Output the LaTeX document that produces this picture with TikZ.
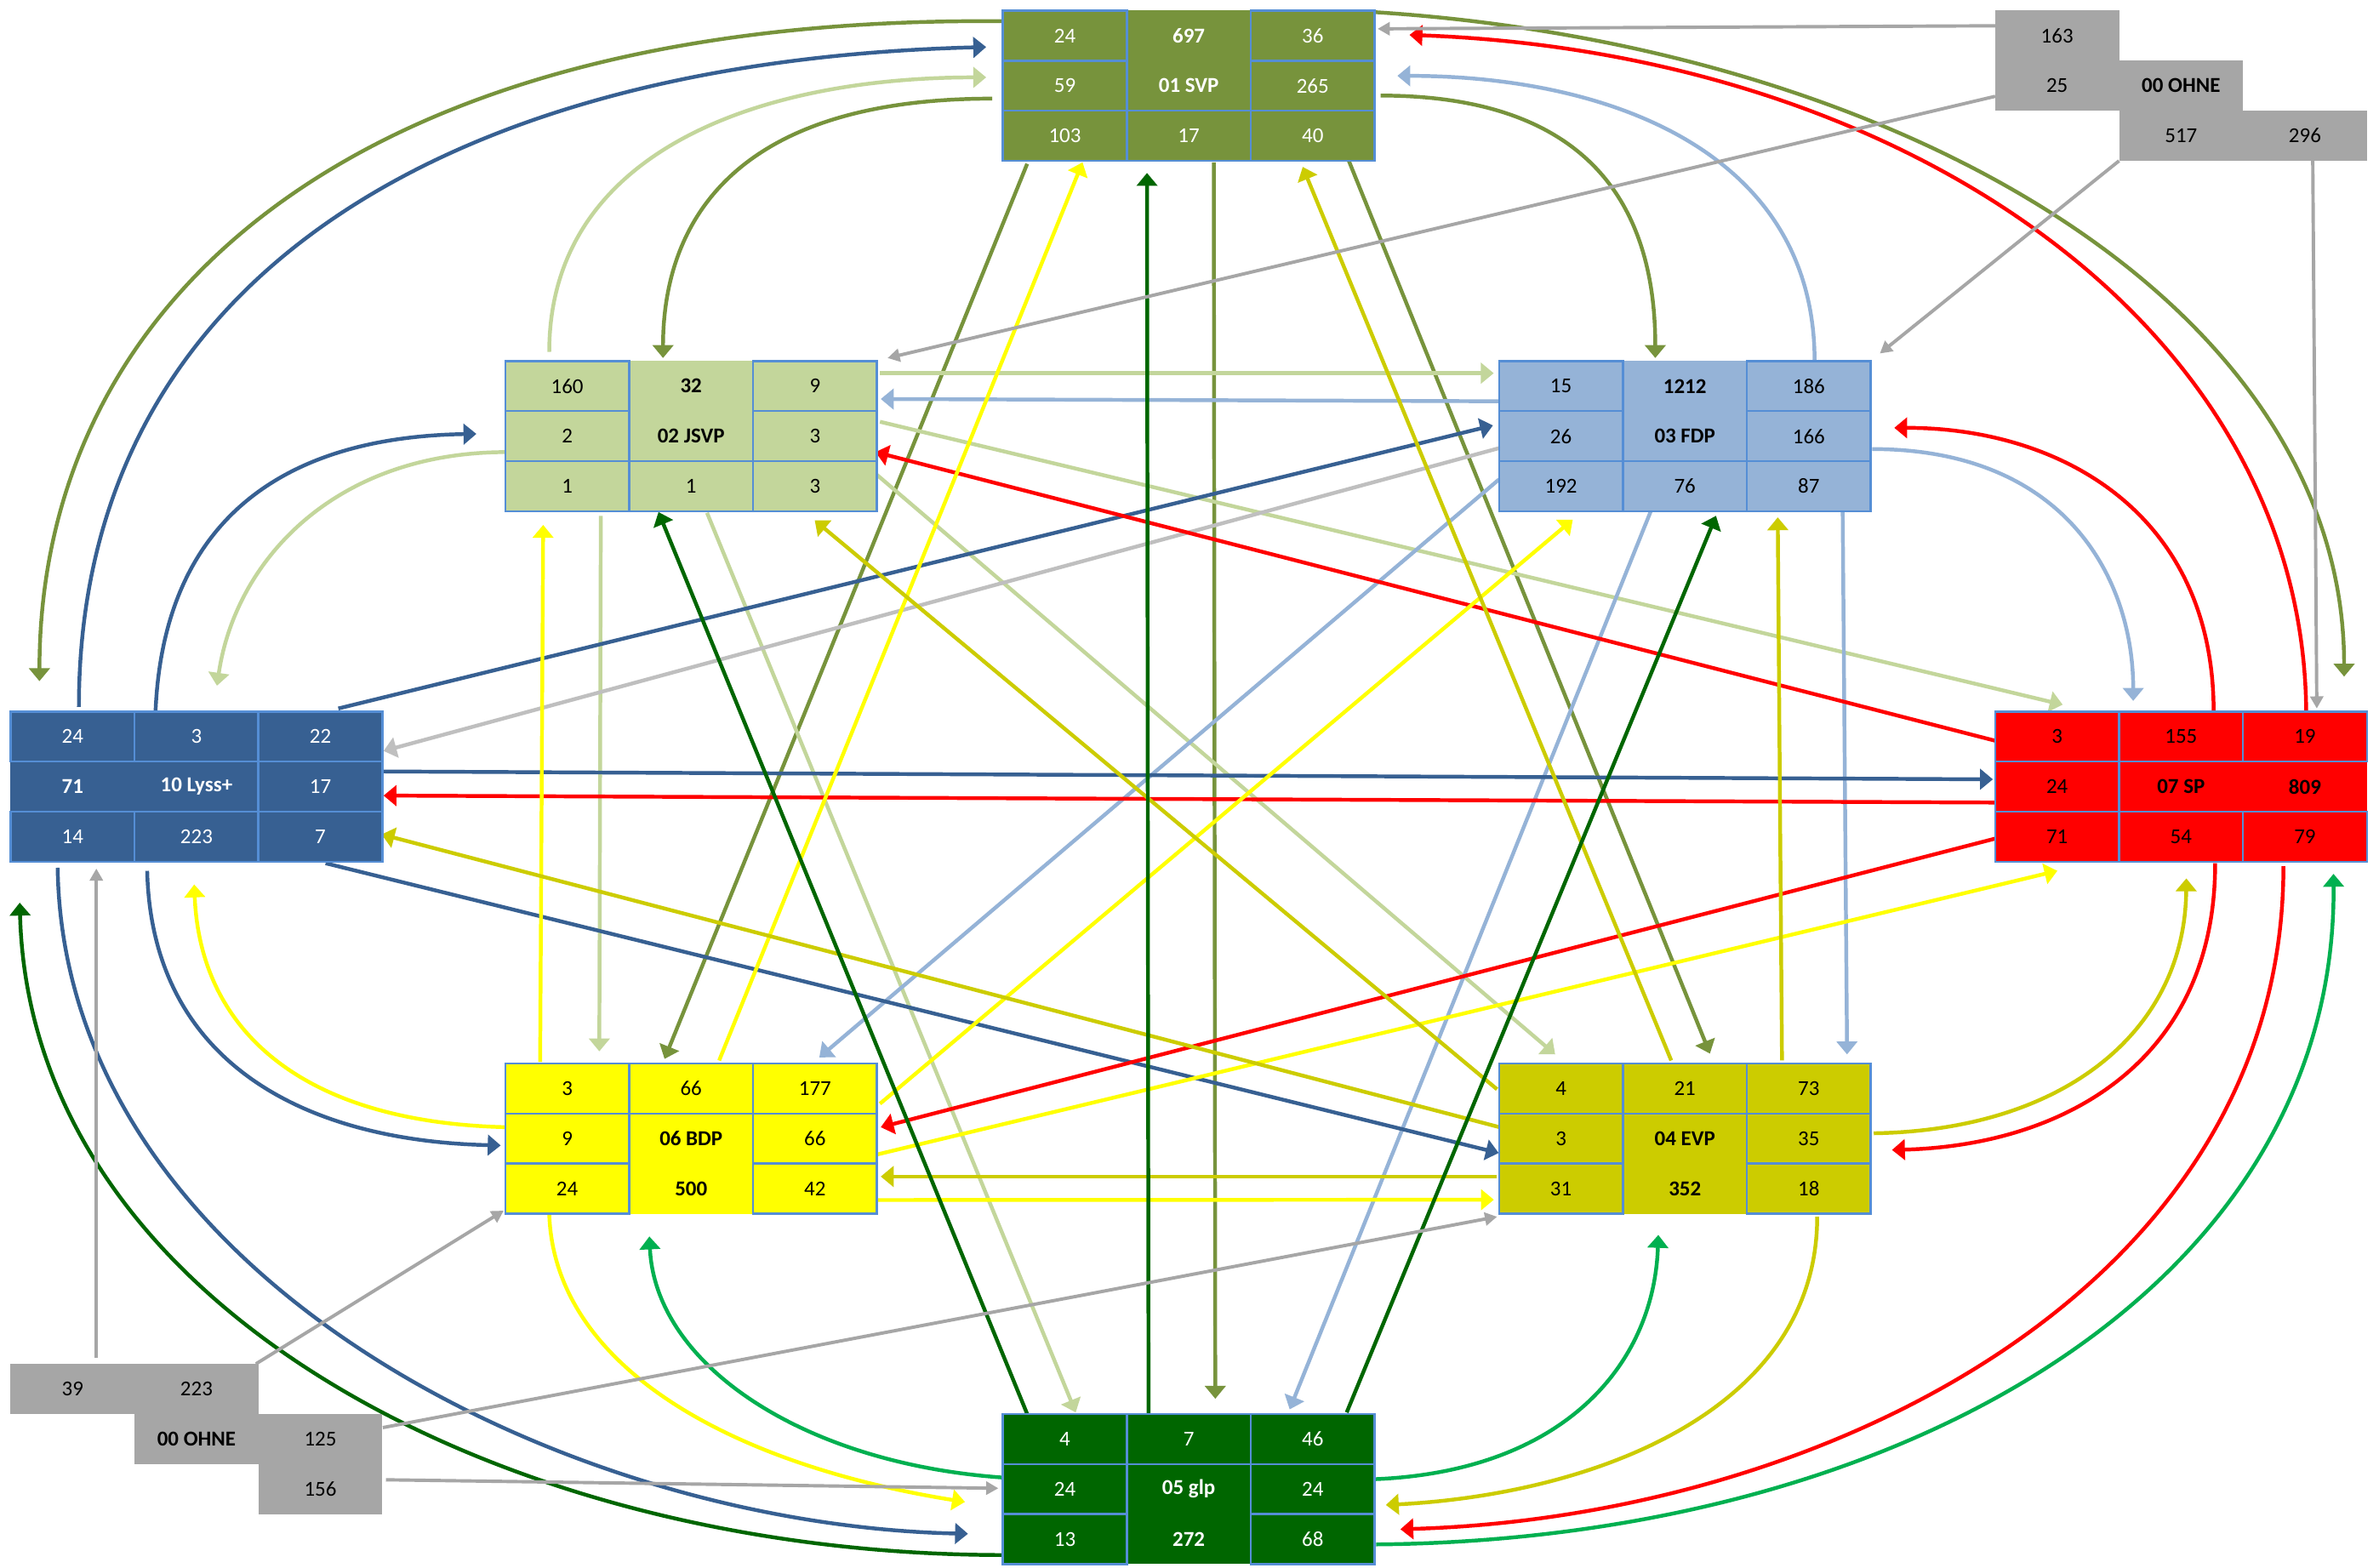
\documentclass[tikz,border=0pt]{standalone}
\usepackage{fontspec}
\setmainfont{Carlito}
\usetikzlibrary{arrows.meta}
\definecolor{svpc}{HTML}{77933C}
\definecolor{jsvpc}{HTML}{C3D69B}
\definecolor{fdpc}{HTML}{95B3D7}
\definecolor{lyssc}{HTML}{376092}
\definecolor{spc}{HTML}{FF0000}
\definecolor{bdpc}{HTML}{FFFF00}
\definecolor{evpc}{HTML}{CCCC00}
\definecolor{glpc}{HTML}{006600}
\definecolor{glpb}{HTML}{00B050}
\definecolor{ohnec}{HTML}{A6A6A6}
\definecolor{lgrey}{HTML}{BFBFBF}
\definecolor{bordc}{HTML}{558ED5}
\newcommand\cellfont{\fontsize{14}{16}\selectfont}
\newcommand\cell[5]{\node[#1, text=\tc] (#2) at ([shift={(#3*81.667,#4*33)}]\bx.north west) {#5};}
\pgfdeclarelayer{bgl}
\pgfdeclarelayer{conn}
\pgfsetlayers{bgl,conn,main}
\tikzset{
  pbox/.style={anchor=north west, minimum width=245pt, minimum height=99pt, inner sep=0pt, outer sep=0pt, draw=none},
  cb/.style={anchor=north west, minimum width=81.667pt, minimum height=33pt, inner sep=0pt, outer sep=0pt, draw=bordc, line width=1.4pt, font=\cellfont},
  cn/.style={cb, draw=none},
  ohc/.style={anchor=north west, minimum width=81.667pt, minimum height=33pt, inner sep=0pt, outer sep=0pt, fill=ohnec, text=black, font=\cellfont},
  arr/.style={line width=2.5pt, -{Triangle[length=8.5pt,width=13.5pt]}},
  garr/.style={line width=2.2pt, color=ohnec, -{Triangle[length=8pt,width=8.5pt]}},
}
\begin{document}
\begin{tikzpicture}[x=1pt,y=-1pt]
\useasboundingbox (0,0) rectangle (1568,1033);
\begin{pgfonlayer}{bgl}
\fill[white] (0,0) rectangle (1568,1033);
\end{pgfonlayer}

% ---------- SVP
\node[pbox, fill=svpc] (svp) at (661,7) {};
\def\bx{svp}\def\tc{white}
\cell{cb}{svp11}{0}{0}{24}
\cell{cn}{svp12}{1}{0}{\textbf{697}}
\cell{cb}{svp13}{2}{0}{36}
\cell{cb}{svp21}{0}{1}{59}
\cell{cn}{svp22}{1}{1}{\textbf{01 SVP}}
\cell{cb}{svp23}{2}{1}{265}
\cell{cb}{svp31}{0}{2}{103}
\cell{cb}{svp32}{1}{2}{17}
\cell{cb}{svp33}{2}{2}{40}
% ---------- JSVP
\node[pbox, fill=jsvpc] (jsvp) at (333,238) {};
\def\bx{jsvp}\def\tc{black}
\cell{cb}{jsvp11}{0}{0}{160}
\cell{cn}{jsvp12}{1}{0}{\textbf{32}}
\cell{cb}{jsvp13}{2}{0}{9}
\cell{cb}{jsvp21}{0}{1}{2}
\cell{cn}{jsvp22}{1}{1}{\textbf{02 JSVP}}
\cell{cb}{jsvp23}{2}{1}{3}
\cell{cb}{jsvp31}{0}{2}{1}
\cell{cb}{jsvp32}{1}{2}{1}
\cell{cb}{jsvp33}{2}{2}{3}
% ---------- FDP
\node[pbox, fill=fdpc] (fdp) at (988,238) {};
\def\bx{fdp}\def\tc{black}
\cell{cb}{fdp11}{0}{0}{15}
\cell{cn}{fdp12}{1}{0}{\textbf{1212}}
\cell{cb}{fdp13}{2}{0}{186}
\cell{cb}{fdp21}{0}{1}{26}
\cell{cn}{fdp22}{1}{1}{\textbf{03 FDP}}
\cell{cb}{fdp23}{2}{1}{166}
\cell{cb}{fdp31}{0}{2}{192}
\cell{cb}{fdp32}{1}{2}{76}
\cell{cb}{fdp33}{2}{2}{87}
% ---------- Lyss+
\node[pbox, fill=lyssc] (lyss) at (7,469) {};
\def\bx{lyss}\def\tc{white}
\cell{cb}{lyss11}{0}{0}{24}
\cell{cb}{lyss12}{1}{0}{3}
\cell{cb}{lyss13}{2}{0}{22}
\cell{cn}{lyss21}{0}{1}{\textbf{71}}
\cell{cn}{lyss22}{1}{1}{\textbf{10 Lyss+}}
\cell{cb}{lyss23}{2}{1}{17}
\cell{cb}{lyss31}{0}{2}{14}
\cell{cb}{lyss32}{1}{2}{223}
\cell{cb}{lyss33}{2}{2}{7}
% ---------- SP
\node[pbox, fill=spc] (sp) at (1315,469) {};
\def\bx{sp}\def\tc{black}
\cell{cb}{sp11}{0}{0}{3}
\cell{cb}{sp12}{1}{0}{155}
\cell{cb}{sp13}{2}{0}{19}
\cell{cb}{sp21}{0}{1}{24}
\cell{cn}{sp22}{1}{1}{\textbf{07 SP}}
\cell{cn}{sp23}{2}{1}{\textbf{809}}
\cell{cb}{sp31}{0}{2}{71}
\cell{cb}{sp32}{1}{2}{54}
\cell{cb}{sp33}{2}{2}{79}
% ---------- BDP
\node[pbox, fill=bdpc] (bdp) at (333,701) {};
\def\bx{bdp}\def\tc{black}
\cell{cb}{bdp11}{0}{0}{3}
\cell{cb}{bdp12}{1}{0}{66}
\cell{cb}{bdp13}{2}{0}{177}
\cell{cb}{bdp21}{0}{1}{9}
\cell{cn}{bdp22}{1}{1}{\textbf{06 BDP}}
\cell{cb}{bdp23}{2}{1}{66}
\cell{cb}{bdp31}{0}{2}{24}
\cell{cn}{bdp32}{1}{2}{\textbf{500}}
\cell{cb}{bdp33}{2}{2}{42}
% ---------- EVP
\node[pbox, fill=evpc] (evp) at (988,701) {};
\def\bx{evp}\def\tc{black}
\cell{cb}{evp11}{0}{0}{4}
\cell{cb}{evp12}{1}{0}{21}
\cell{cb}{evp13}{2}{0}{73}
\cell{cb}{evp21}{0}{1}{3}
\cell{cn}{evp22}{1}{1}{\textbf{04 EVP}}
\cell{cb}{evp23}{2}{1}{35}
\cell{cb}{evp31}{0}{2}{31}
\cell{cn}{evp32}{1}{2}{\textbf{352}}
\cell{cb}{evp33}{2}{2}{18}
% ---------- glp
\node[pbox, fill=glpc] (glp) at (661,932) {};
\def\bx{glp}\def\tc{white}
\cell{cb}{glp11}{0}{0}{4}
\cell{cb}{glp12}{1}{0}{7}
\cell{cb}{glp13}{2}{0}{46}
\cell{cb}{glp21}{0}{1}{24}
\cell{cn}{glp22}{1}{1}{\textbf{05 glp}}
\cell{cb}{glp23}{2}{1}{24}
\cell{cb}{glp31}{0}{2}{13}
\cell{cn}{glp32}{1}{2}{\textbf{272}}
\cell{cb}{glp33}{2}{2}{68}
% ---------- OHNE (top right)
\node[ohc] (o163) at (1315,7) {163};
\node[ohc] (o25) at (1315,40) {25};
\node[ohc] (oname) at (1396.667,40) {\textbf{00 OHNE}};
\node[ohc] (o517) at (1396.667,73) {517};
\node[ohc] (o296) at (1478.333,73) {296};
% ---------- OHNE (bottom left)
\node[ohc] (u39) at (7,899) {39};
\node[ohc] (u223) at (88.667,899) {223};
\node[ohc] (uname) at (88.667,932) {\textbf{00 OHNE}};
\node[ohc] (u125) at (170.333,932) {125};
\node[ohc] (u156) at (170.333,965) {156};

\begin{pgfonlayer}{conn}
% ---- SVP (olive)
\begin{scope}[arr, color=svpc]
\draw ([shift={(0,7)}]svp.north west) .. controls +(-431,-4) and +(0,-249) .. ([shift={(19,-20)}]lyss.north west);
\draw ([shift={(245,1)}]svp.north west) .. controls +(344,22) and +(0,-246) .. ([shift={(230,-23)}]sp.north west);
\draw ([shift={(-7,58)}]svp.north west) .. controls +(-174,0) and +(0,-86) .. ([shift={(104,-2)}]jsvp.north west);
\draw ([shift={(249,56)}]svp.north west) .. controls +(150,0) and +(0,-86) .. ([shift={(103,-2)}]fdp.north west);
\draw ([shift={(16,101)}]svp.north west) -- ([shift={(105,-3)}]bdp.north west);
\draw ([shift={(139,100)}]svp.north west) -- ([shift={(140,-10)}]glp.north west);
\draw ([shift={(228,99)}]svp.north west) -- ([shift={(139,-6.5)}]evp.north west);
\end{scope}
% ---- JSVP (light green)
\begin{scope}[arr, color=jsvpc]
\draw ([shift={(29,-6)}]jsvp.north west) .. controls +(0,-132) and +(-150,0) .. ([shift={(-11,44)}]svp.north west);
\draw ([shift={(247,8)}]jsvp.north west) -- ([shift={(-3.5,8)}]fdp.north west);
\draw ([shift={(1,60)}]jsvp.north west) .. controls +(-114,0) and +(12,-82) .. ([shift={(136,-17)}]lyss.north west);
\draw ([shift={(63,102)}]jsvp.north west) -- ([shift={(62,-8)}]bdp.north west);
\draw ([shift={(133,100)}]jsvp.north west) -- ([shift={(48,-1)}]glp.north west);
\draw ([shift={(247,40)}]jsvp.north west) -- ([shift={(44.5,-4.5)}]sp.north west);
\draw ([shift={(245,75)}]jsvp.north west) -- ([shift={(37,-6)}]evp.north west);
\end{scope}
% ---- FDP (light blue)
\begin{scope}[arr, color=fdpc]
\draw ([shift={(208,0)}]fdp.north west) .. controls +(0,-138) and +(139,0) .. ([shift={(260,43)}]svp.north west);
\draw ([shift={(0,26.5)}]fdp.north west) -- ([shift={(247.5,25)}]jsvp.north west);
\draw ([shift={(246,58)}]fdp.north west) .. controls +(126,0) and +(0,-82) .. ([shift={(91,-7)}]sp.north west);
\draw ([shift={(0,78)}]fdp.north west) -- ([shift={(207,-4)}]bdp.north west);
\draw ([shift={(100,99)}]fdp.north west) -- ([shift={(189,-3)}]glp.north west);
\draw ([shift={(226.5,99)}]fdp.north west) -- ([shift={(229.4,-6)}]evp.north west);
\draw[color=lgrey] ([shift={(0,57.4)}]fdp.north west) -- ([shift={(245.8,26)}]lyss.north west);
\end{scope}
% ---- Lyss+ (dark blue)
\begin{scope}[arr, color=lyssc]
\draw ([shift={(45,-3)}]lyss.north west) .. controls +(0,-286) and +(-350,9) .. ([shift={(-11,24)}]svp.north west);
\draw ([shift={(95.5,0)}]lyss.north west) .. controls +(5.5,-129) and +(-124,2) .. ([shift={(-19,48)}]jsvp.north west);
\draw ([shift={(216,-2)}]lyss.north west) -- ([shift={(-4,42.4)}]fdp.north west);
\draw ([shift={(244.5,39.5)}]lyss.north west) -- ([shift={(-1.5,44.7)}]sp.north west);
\draw ([shift={(207.6,100)}]lyss.north west) -- ([shift={(-0.2,59)}]evp.north west);
\draw ([shift={(90,105)}]lyss.north west) .. controls +(3,126) and +(-130,-3) .. ([shift={(-3,54)}]bdp.north west);
\draw ([shift={(31,103)}]lyss.north west) .. controls +(4,268) and +(-268,-6) .. ([shift={(-23,79)}]glp.north west);
\end{scope}
% ---- SP (red)
\begin{scope}[arr, color=spc]
\draw ([shift={(205,0)}]sp.north west) .. controls +(-2,-254) and +(326,12) .. ([shift={(268,16)}]svp.north west);
\draw ([shift={(144,0)}]sp.north west) .. controls +(0,-129) and +(111.5,0) .. ([shift={(260.5,44)}]fdp.north west);
\draw ([shift={(1,19.5)}]sp.north west) -- ([shift={(244,60)}]jsvp.north west);
\draw ([shift={(0,60)}]sp.north west) -- ([shift={(245.8,55.4)}]lyss.north west);
\draw ([shift={(1,83.5)}]sp.north west) -- ([shift={(247.5,42)}]bdp.north west);
\draw ([shift={(145,100)}]sp.north west) .. controls +(0,131) and +(113,-3) .. ([shift={(259,57)}]evp.north west);
\draw ([shift={(190,102)}]sp.north west) .. controls +(0,279) and +(277,-8) .. ([shift={(262,76)}]glp.north west);
\end{scope}
% ---- BDP (yellow)
\begin{scope}[arr, color=bdpc]
\draw ([shift={(141,-2)}]bdp.north west) -- ([shift={(52.5,100)}]svp.north west);
\draw ([shift={(23,-1)}]bdp.north west) -- ([shift={(25,108)}]jsvp.north west);
\draw ([shift={(1,42)}]bdp.north west) .. controls +(-134,-3) and +(4,97) .. ([shift={(121,114)}]lyss.north west);
\draw ([shift={(247,26.5)}]bdp.north west) -- ([shift={(48.6,104.5)}]fdp.north west);
\draw ([shift={(245,60)}]bdp.north west) -- ([shift={(41,105)}]sp.north west);
\draw ([shift={(245,90)}]bdp.north west) -- ([shift={(-3.4,89.8)}]evp.north west);
\draw ([shift={(29,99)}]bdp.north west) .. controls +(3,100) and +(-156,-25) .. ([shift={(-25,58)}]glp.north west);
\end{scope}
% ---- EVP (olive yellow)
\begin{scope}[arr, color=evpc]
\draw ([shift={(113.5,-2)}]evp.north west) -- ([shift={(197.6,103)}]svp.north west);
\draw ([shift={(-1.3,17)}]evp.north west) -- ([shift={(204,105)}]jsvp.north west);
\draw ([shift={(0.4,42)}]evp.north west) -- ([shift={(244.5,81)}]lyss.north west);
\draw ([shift={(186.5,-2)}]evp.north west) -- ([shift={(183.7,103)}]fdp.north west);
\draw ([shift={(247,46)}]evp.north west) .. controls +(125,-2) and +(-1,101) .. ([shift={(126,110)}]sp.north west);
\draw ([shift={(-1.3,74.5)}]evp.north west) -- ([shift={(247.5,74.5)}]bdp.north west);
\draw ([shift={(209.7,101)}]evp.north west) .. controls +(0,128) and +(136.6,-7) .. ([shift={(252.4,60)}]glp.north west);
\end{scope}
% ---- glp (greens)
\begin{scope}[arr, color=glpc]
\draw ([shift={(96,0)}]glp.north west) -- ([shift={(95,107)}]svp.north west);
\draw ([shift={(16,0)}]glp.north west) -- ([shift={(101,99.5)}]jsvp.north west);
\draw ([shift={(226.6,-1)}]glp.north west) -- ([shift={(143,102)}]fdp.north west);
\draw ([shift={(1,93)}]glp.north west) .. controls +(-332,0) and +(7,265) .. ([shift={(6,126)}]lyss.north west);
\end{scope}
\begin{scope}[arr, color=glpb]
\draw ([shift={(1,42)}]glp.north west) .. controls +(-132,-9) and +(4,85) .. ([shift={(95,114)}]bdp.north west);
\draw ([shift={(245,43)}]glp.north west) .. controls +(124,-5) and +(-3,86) .. ([shift={(105,113)}]evp.north west);
\draw ([shift={(246,86)}]glp.north west) .. controls +(343,-3) and +(2,274) .. ([shift={(223,107)}]sp.north west);
\end{scope}
% ---- OHNE (grey)
\draw[garr] ([shift={(0,10)}]o163.north west) -- ([shift={(247,12)}]svp.north west);
\draw[garr] ([shift={(0,23.5)}]o25.north west) -- ([shift={(252,-2)}]jsvp.north west);
\draw[garr] (o517.south west) -- ([shift={(251,-5)}]fdp.north west);
\draw[garr] ([shift={(46,33)}]o296.north west) -- ([shift={(212,-2)}]sp.north west);
\draw[garr] ([shift={(56.5,-4)}]u39.north west) -- ([shift={(56.5,103.5)}]lyss.north west);
\draw[garr] ([shift={(80,0)}]u223.north west) -- ([shift={(-1,97)}]bdp.north west);
\draw[garr] ([shift={(82,9)}]u125.north west) -- ([shift={(-1.3,101)}]evp.north west);
\draw[garr] ([shift={(84,10.4)}]u156.north west) -- ([shift={(-3,49)}]glp.north west);
\end{pgfonlayer}
\end{tikzpicture}
\end{document}
